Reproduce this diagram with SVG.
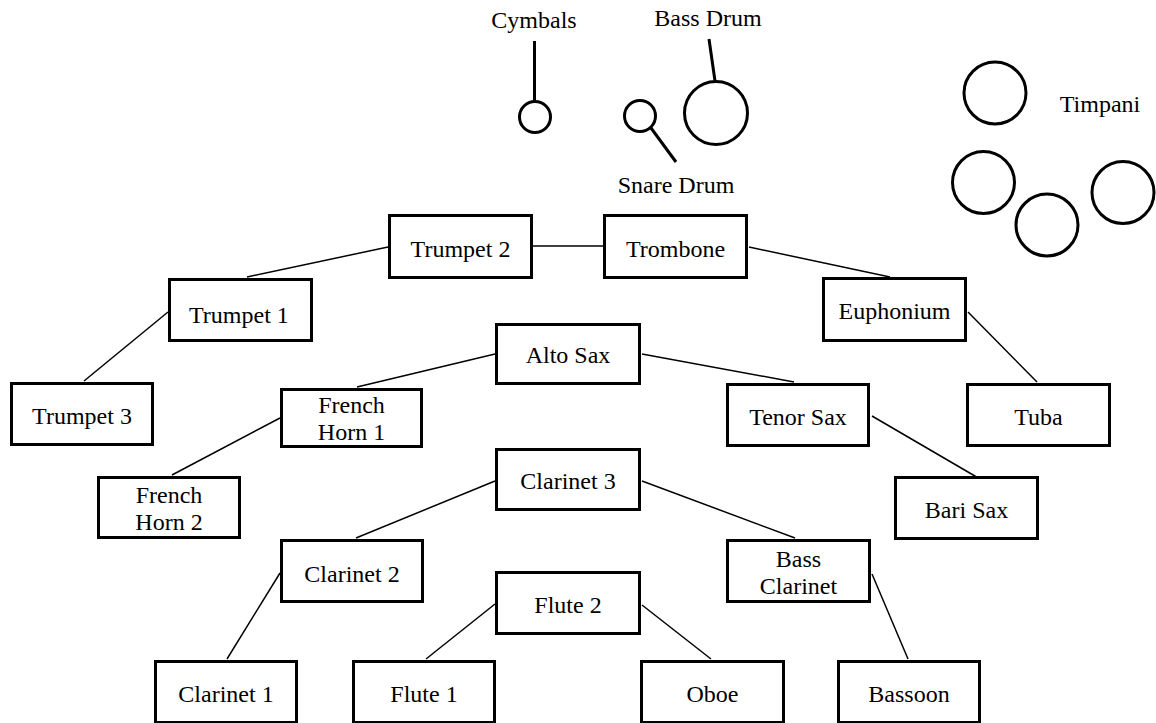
<svg xmlns="http://www.w3.org/2000/svg" width="1156" height="723" viewBox="0 0 1156 723">
<style>
.box{fill:#fff;stroke:#000;stroke-width:3;stroke-linejoin:miter}
.lbl{font-family:"Liberation Serif","Times New Roman",serif;font-size:24px;fill:#000;text-anchor:middle}
.conn{stroke:#000;stroke-width:1.5;fill:none}
.perc{stroke:#000;stroke-width:3;fill:none}
</style>
<rect width="1156" height="723" fill="#fff"/>
<g id="connectors">
<line class="conn" x1="247" y1="277" x2="388" y2="247"/>
<line class="conn" x1="533" y1="246" x2="603" y2="246"/>
<line class="conn" x1="749" y1="247" x2="890" y2="277"/>
<line class="conn" x1="84" y1="381" x2="168" y2="312"/>
<line class="conn" x1="968" y1="312" x2="1037" y2="382"/>
<line class="conn" x1="357" y1="387" x2="495" y2="354"/>
<line class="conn" x1="642" y1="354" x2="794" y2="382"/>
<line class="conn" x1="172" y1="475" x2="280" y2="418"/>
<line class="conn" x1="872" y1="416" x2="980" y2="479"/>
<line class="conn" x1="356" y1="538" x2="495" y2="481"/>
<line class="conn" x1="642" y1="481" x2="795" y2="538"/>
<line class="conn" x1="227" y1="659" x2="280" y2="573"/>
<line class="conn" x1="426" y1="659" x2="495" y2="604"/>
<line class="conn" x1="642" y1="605" x2="711" y2="659"/>
<line class="conn" x1="872" y1="574" x2="908" y2="659"/>
</g>
<g id="percussion">
<g id="cymbals">
<line class="perc" x1="534.5" y1="41" x2="534.5" y2="101"/>
<circle class="perc" cx="535" cy="117" r="15.5"/>
<text class="lbl" x="534" y="28">Cymbals</text>
</g>
<g id="bass-drum">
<line class="perc" x1="709" y1="39" x2="715" y2="81"/>
<circle class="perc" cx="716" cy="113" r="31.5"/>
<text class="lbl" x="708" y="26">Bass Drum</text>
</g>
<g id="snare-drum">
<circle class="perc" cx="640" cy="116" r="15.5"/>
<line class="perc" x1="651" y1="128" x2="676" y2="162"/>
<text class="lbl" x="676" y="193">Snare Drum</text>
</g>
<g id="timpani">
<circle class="perc" cx="995" cy="93" r="31"/>
<circle class="perc" cx="983.5" cy="182.5" r="31"/>
<circle class="perc" cx="1047" cy="225" r="31"/>
<circle class="perc" cx="1123" cy="192.5" r="31"/>
<text class="lbl" x="1100" y="112">Timpani</text>
</g>
</g>
<g id="trumpet2"><rect class="box" x="389.5" y="215.5" width="142" height="62"/><text class="lbl" x="460.5" y="257">Trumpet 2</text></g>
<g id="trombone"><rect class="box" x="604.5" y="215.5" width="142" height="62"/><text class="lbl" x="675.5" y="257">Trombone</text></g>
<g id="trumpet1"><rect class="box" x="169.5" y="279.5" width="142" height="61"/><text class="lbl" x="189" y="323" style="text-anchor:start">Trumpet 1</text></g>
<g id="euphonium"><rect class="box" x="823.5" y="278.5" width="142" height="62"/><text class="lbl" x="894.5" y="319">Euphonium</text></g>
<g id="trumpet3"><rect class="box" x="11.5" y="383.5" width="141" height="61"/><text class="lbl" x="82" y="424">Trumpet 3</text></g>
<g id="alto-sax"><rect class="box" x="496.5" y="324.5" width="143" height="59"/><text class="lbl" x="568" y="363">Alto Sax</text></g>
<g id="french-horn-1"><rect class="box" x="281.5" y="389.5" width="140" height="57"/><text class="lbl" x="351.5" y="412.5">French</text><text class="lbl" x="351.5" y="440">Horn 1</text></g>
<g id="tenor-sax"><rect class="box" x="727.5" y="384.5" width="141" height="61"/><text class="lbl" x="798" y="425">Tenor Sax</text></g>
<g id="tuba"><rect class="box" x="967.5" y="384.5" width="142" height="61"/><text class="lbl" x="1038.5" y="425">Tuba</text></g>
<g id="clarinet-3"><rect class="box" x="496.5" y="449.5" width="143" height="60"/><text class="lbl" x="568" y="489">Clarinet 3</text></g>
<g id="french-horn-2"><rect class="box" x="98.5" y="477.5" width="141" height="60"/><text class="lbl" x="169" y="502.5">French</text><text class="lbl" x="169" y="530">Horn 2</text></g>
<g id="bari-sax"><rect class="box" x="895.5" y="477.5" width="142" height="61"/><text class="lbl" x="966.5" y="518">Bari Sax</text></g>
<g id="clarinet-2"><rect class="box" x="281.5" y="540.5" width="141" height="61"/><text class="lbl" x="352" y="581.5">Clarinet 2</text></g>
<g id="bass-clarinet"><rect class="box" x="727.5" y="540.5" width="142" height="61"/><text class="lbl" x="798.5" y="566.5">Bass</text><text class="lbl" x="798.5" y="594">Clarinet</text></g>
<g id="flute-2"><rect class="box" x="496.5" y="572.5" width="143" height="61"/><text class="lbl" x="568" y="613">Flute 2</text></g>
<g id="clarinet-1"><rect class="box" x="155.5" y="661.5" width="141" height="61"/><text class="lbl" x="226" y="701.5">Clarinet 1</text></g>
<g id="flute-1"><rect class="box" x="353.5" y="661.5" width="141" height="61"/><text class="lbl" x="424" y="701.5">Flute 1</text></g>
<g id="oboe"><rect class="box" x="641.5" y="661.5" width="142" height="61"/><text class="lbl" x="712.5" y="701.5">Oboe</text></g>
<g id="bassoon"><rect class="box" x="838.5" y="661.5" width="141" height="61"/><text class="lbl" x="909" y="701.5">Bassoon</text></g>
</svg>
